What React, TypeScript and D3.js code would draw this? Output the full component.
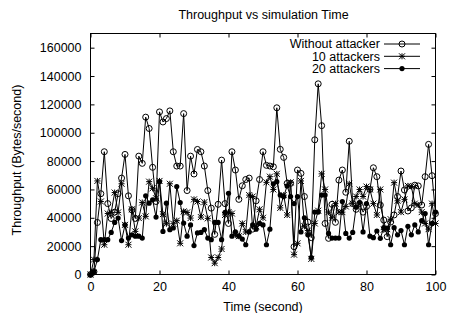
import * as React from 'react'
import * as d3 from 'd3'

// throughput in bytes/second, one sample per second (t = 0..100)
const withoutAttacker = [
    0, 2000, 36700, 57000, 86600, 50000, 39500, 44000, 57000, 68000,
    84700, 55500, 45600, 39500, 83500, 78400, 111000, 103000, 75600, 51500,
    114700, 107600, 110000, 115400, 86600, 76500, 76500, 113500, 59200, 83500,
    70900, 88200, 86600, 76500, 59200, 46800, 28300, 49500, 80700, 50000,
    36000, 86600, 73700, 53000, 62600, 67000, 68000, 32000, 52000, 67000,
    86600, 77000, 76500, 76000, 117600, 88300, 82600, 64300, 64300, 19600,
    73700, 71300, 55000, 37000, 26000, 95000, 134500, 105000, 36000, 25500,
    49500, 36800, 66600, 73700, 58000, 94000, 50000, 46000, 50000, 44000,
    48000, 60000, 75300, 69000, 49000, 38400, 26700, 37000, 42000, 55000,
    73000, 59600, 44800, 47000, 63000, 62500, 49000, 69000, 91800, 69700,
    43000,
]

const tenAttackers = [
    0, 10500, 66000, 51500, 21000, 43000, 43800, 57800, 43800, 64000,
    35000, 21000, 46000, 30400, 39800, 50800, 41000, 65500, 60800, 53800,
    66000, 42600, 35800, 64000, 35800, 38000, 22000, 44500, 43800, 39800,
    53000, 51500, 40500, 51000, 39600, 12000, 8000, 12000, 18000, 42000,
    44000, 43000, 28000, 27000, 36000, 30000, 56000, 55000, 34000, 46000,
    40000, 65000, 69000, 60000, 71000, 47000, 56000, 42000, 65000, 14000,
    22000, 66000, 34000, 31000, 11000, 36000, 45000, 71000, 60000, 44000,
    40000, 50000, 44000, 44000, 48000, 64000, 50000, 55000, 60000, 55000,
    62000, 60000, 50000, 42000, 60000, 31600, 32000, 39000, 64800, 52000,
    44000, 53000, 62500, 62000, 50000, 49000, 44000, 36000, 32000, 50000,
    36000,
]

const twentyAttackers = [
    0, 2000, 10500, 24600, 24600, 24600, 29700, 36700, 39800, 23900,
    35000, 25700, 28000, 27000, 27000, 25700, 55500, 50300, 52700, 40500,
    65500, 30400, 50300, 31600, 32800, 62000, 50800, 36300, 27000, 35000,
    20400, 29300, 29700, 31600, 25700, 24600, 36700, 36700, 24600, 43800,
    57300, 27000, 30000, 27000, 25000, 21000, 30000, 35000, 32000, 36000,
    35000, 21000, 32000, 64000, 65500, 56000, 55000, 62500, 55000, 50000,
    55000, 30000, 40000, 28000, 12000, 44000, 44000, 56000, 56000, 29000,
    25700, 25700, 25700, 51500, 29000, 25700, 29700, 47500, 50800, 30000,
    50000, 27000, 26000, 30700, 25500, 33000, 32800, 21000, 33000, 28000,
    31000, 21000, 34000, 28000, 35000, 30000, 38000, 43000, 21000, 36000,
    44000,
]

const seriesNames = ['Without attacker', '10 attackers', '20 attackers']
const xTicks = [0, 20, 40, 60, 80, 100]
const yTicks = [0, 20000, 40000, 60000, 80000, 100000, 120000, 140000, 160000]

const W = 449
const H = 313
const font = '"Liberation Sans", Arial, Helvetica, sans-serif'
const fontSize = 12.5

type Marker = 'circle' | 'star' | 'dot'
const markers: Marker[] = ['circle', 'star', 'dot']

function drawMarker(g: d3.Selection<SVGGElement, unknown, null, undefined>, kind: Marker, cx: number, cy: number) {
    if (kind === 'circle') {
        g.append('circle').attr('cx', cx).attr('cy', cy).attr('r', 3)
            .attr('fill', 'none').attr('stroke', '#000').attr('stroke-width', 1)
    } else if (kind === 'dot') {
        g.append('circle').attr('cx', cx).attr('cy', cy).attr('r', 2.6).attr('fill', '#000')
    } else {
        const s = 3
        const p = `M${cx - s},${cy}H${cx + s}M${cx},${cy - s}V${cy + s}` +
            `M${cx - s},${cy - s}L${cx + s},${cy + s}M${cx - s},${cy + s}L${cx + s},${cy - s}`
        g.append('path').attr('d', p).attr('stroke', '#000').attr('stroke-width', 1).attr('fill', 'none')
    }
}

export default class App extends React.Component<{}, {}> {
    private node: SVGSVGElement | null = null

    componentDidMount() {
        this.createChart()
    }

    private createChart(): void {
        if (!this.node)
            return
        const svg = d3.select(this.node)
        svg.selectAll('*').remove()

        const x = d3.scaleLinear().domain([0, 100]).range([90.5, 435.5])
        const y = d3.scaleLinear().domain([0, 170000]).range([274.5, 33.5])

        svg.append('rect').attr('width', W).attr('height', H).attr('fill', '#fff')

        // ticks (inward, mirrored)
        const tick = 4
        const yAxis = svg.append('g').attr('transform', 'translate(90.5,0)')
            .call(d3.axisLeft(y).tickValues(yTicks).tickSize(-tick).tickPadding(9).tickFormat(d3.format('d')))
        const xAxis = svg.append('g').attr('transform', 'translate(0,274.5)')
            .call(d3.axisBottom(x).tickValues(xTicks).tickSize(-tick).tickPadding(8).tickFormat(d3.format('d')))
        const yRight = svg.append('g').attr('transform', 'translate(435.5,0)')
            .call(d3.axisRight(y).tickValues(yTicks).tickSize(-tick).tickFormat(() => ''))
        const xTop = svg.append('g').attr('transform', 'translate(0,33.5)')
            .call(d3.axisTop(x).tickValues(xTicks).tickSize(-tick).tickFormat(() => ''))
        for (const a of [yAxis, xAxis, yRight, xTop]) {
            a.select('.domain').remove()
            a.selectAll('text').attr('font-family', font).attr('font-size', fontSize).attr('fill', '#000')
            a.selectAll('line').attr('stroke', '#000')
        }

        // frame
        svg.append('rect')
            .attr('x', 90.5).attr('y', 33.5)
            .attr('width', 345).attr('height', 241)
            .attr('fill', 'none').attr('stroke', '#000').attr('stroke-width', 1)

        // series
        const all = [withoutAttacker, tenAttackers, twentyAttackers]
        const line = d3.line<number>()
            .x((d, i) => x(i))
            .y(d => y(d))
        all.forEach((values, k) => {
            const g = svg.append('g')
            g.append('path')
                .datum(values)
                .attr('fill', 'none')
                .attr('stroke', '#000')
                .attr('stroke-width', 1)
                .attr('d', line)
            values.forEach((v, i) => drawMarker(g, markers[k], x(i), y(v)))
        })

        // legend
        const lg = svg.append('g')
        seriesNames.forEach((name, k) => {
            const ly = 44 + k * 12.3
            lg.append('text')
                .attr('x', 380).attr('y', ly).attr('dy', '0.35em')
                .attr('text-anchor', 'end')
                .attr('font-family', font).attr('font-size', fontSize)
                .text(name)
            lg.append('line')
                .attr('x1', 384).attr('x2', 420).attr('y1', ly).attr('y2', ly)
                .attr('stroke', '#000').attr('stroke-width', 1)
            drawMarker(lg, markers[k], 402, ly)
        })

        // titles
        svg.append('text')
            .attr('x', 263.5).attr('y', 19)
            .attr('text-anchor', 'middle')
            .attr('font-family', font).attr('font-size', fontSize)
            .text('Throughput vs simulation Time')
        svg.append('text')
            .attr('x', 263).attr('y', 311)
            .attr('text-anchor', 'middle')
            .attr('font-family', font).attr('font-size', fontSize)
            .text('Time (second)')
        svg.append('text')
            .attr('transform', 'translate(21,160) rotate(-90)')
            .attr('text-anchor', 'middle')
            .attr('font-family', font).attr('font-size', fontSize)
            .text('Throughput (Bytes/second)')
    }

    render() {
        return (
            <svg
                width={W}
                height={H}
                style={{ position: 'absolute', left: 0, top: 0, display: 'block' }}
                ref={node => { this.node = node }} />
        )
    }
}
